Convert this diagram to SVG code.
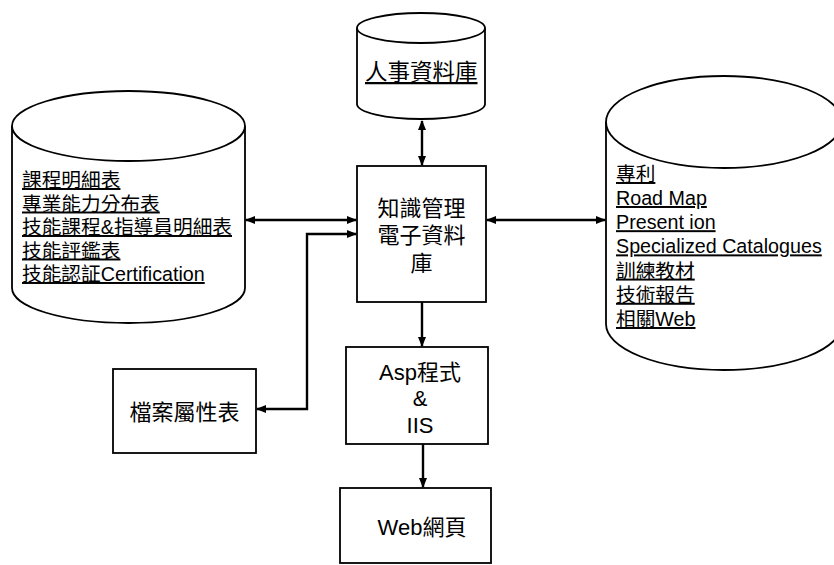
<svg xmlns="http://www.w3.org/2000/svg" width="834" height="565" viewBox="0 0 834 565">
<style>
.shape{fill:#fff;stroke:#000;stroke-width:1.8}
.t{font-family:"Liberation Sans","Noto Sans CJK TC",sans-serif;fill:#000}
.n{font-size:22px;text-anchor:middle}
.l{font-size:19.7px;text-decoration:underline}
.c{fill:none;stroke:#000;stroke-width:2.4}
</style>
<defs>
<marker id="ah" markerUnits="userSpaceOnUse" markerWidth="10" markerHeight="10" viewBox="0 0 10 10" refX="9" refY="5" orient="auto-start-reverse">
<path d="M0,1 L10,5 L0,9 Z" fill="#000"/>
</marker>
</defs>
<rect width="834" height="565" fill="#fff"/>

<g id="hr-db">
<path class="shape" d="M357,28 L357,104 A64,15 0 0 0 485,104 L485,28"/>
<ellipse class="shape" cx="421" cy="28" rx="64" ry="15"/>
<text class="t l" x="365" y="80" style="font-size:22.5px">人事資料庫</text>
</g>

<g id="left-db">
<path class="shape" d="M12,126 L12,288 A116.5,35 0 0 0 245,288 L245,126"/>
<ellipse class="shape" cx="128.5" cy="126" rx="116.5" ry="35"/>
<text class="t l" x="22" y="187">課程明細表</text>
<text class="t l" x="22" y="210.5">專業能力分布表</text>
<text class="t l" x="22" y="234">技能課程&amp;指導員明細表</text>
<text class="t l" x="22" y="257.5">技能評鑑表</text>
<text class="t l" x="22" y="281">技能認証Certification</text>
</g>

<g id="right-db">
<path class="shape" d="M606,122 L606,324 A118,46 0 0 0 842,324 L842,122"/>
<ellipse class="shape" cx="724" cy="122" rx="118" ry="46"/>
<text class="t l" x="616" y="181">專利</text>
<text class="t l" x="616" y="205">Road Map</text>
<text class="t l" x="616" y="229.2">Present ion</text>
<text class="t l" x="616" y="253.4">Specialized Catalogues</text>
<text class="t l" x="616" y="277.6">訓練教材</text>
<text class="t l" x="616" y="301.8">技術報告</text>
<text class="t l" x="616" y="326">相關Web</text>
</g>

<g id="km-db">
<rect class="shape" x="357" y="166" width="129" height="136"/>
<text class="t n" x="421.5" y="216">知識管理</text>
<text class="t n" x="421.5" y="243">電子資料</text>
<text class="t n" x="421.5" y="271">庫</text>
</g>

<g id="file-attr">
<rect class="shape" x="113" y="369" width="143" height="84"/>
<text class="t n" x="184.5" y="420">檔案屬性表</text>
</g>

<g id="asp">
<rect class="shape" x="346" y="347" width="142" height="97"/>
<text class="t n" x="420" y="380">Asp程式</text>
<text class="t n" x="420" y="406">&amp;</text>
<text class="t n" x="420" y="433">IIS</text>
</g>

<g id="web">
<rect class="shape" x="340" y="488" width="151" height="75"/>
<text class="t n" x="422" y="535">Web網頁</text>
</g>

<g id="connectors">
<path class="c" d="M422,121 L422,165" marker-start="url(#ah)" marker-end="url(#ah)"/>
<path class="c" d="M246,220 L356,220" marker-start="url(#ah)" marker-end="url(#ah)"/>
<path class="c" d="M257,409 L307,409 L307,234 L356,234" marker-start="url(#ah)" marker-end="url(#ah)"/>
<path class="c" d="M487,220 L605,220" marker-start="url(#ah)" marker-end="url(#ah)"/>
<path class="c" d="M422,302 L422,346" marker-end="url(#ah)"/>
<path class="c" d="M423,444 L423,487" marker-end="url(#ah)"/>
</g>
</svg>
